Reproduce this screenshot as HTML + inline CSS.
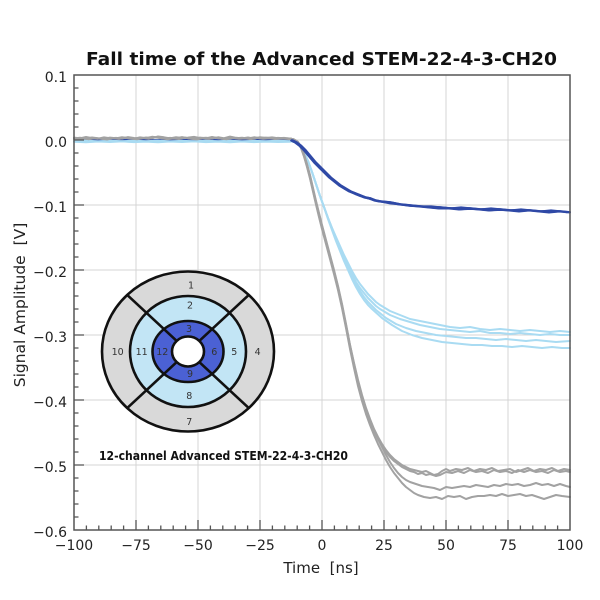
<!DOCTYPE html>
<html><head><meta charset="utf-8"><style>
html,body{margin:0;padding:0;background:#fff;}
svg{display:block;}
text{font-family:"DejaVu Sans","Liberation Sans",sans-serif;}
</style></head><body>
<svg width="600" height="600" viewBox="0 0 600 600" xmlns="http://www.w3.org/2000/svg">
<rect width="600" height="600" fill="#fff"/>
<!-- grid -->
<g stroke="#d4d4d4" stroke-width="1">
<line x1="136" y1="75" x2="136" y2="530"/><line x1="198" y1="75" x2="198" y2="530"/><line x1="260" y1="75" x2="260" y2="530"/><line x1="322" y1="75" x2="322" y2="530"/><line x1="384" y1="75" x2="384" y2="530"/><line x1="446" y1="75" x2="446" y2="530"/><line x1="508" y1="75" x2="508" y2="530"/>
<line x1="74" y1="140" x2="570" y2="140"/><line x1="74" y1="205" x2="570" y2="205"/><line x1="74" y1="270" x2="570" y2="270"/><line x1="74" y1="335" x2="570" y2="335"/><line x1="74" y1="400" x2="570" y2="400"/><line x1="74" y1="465" x2="570" y2="465"/>
</g>
<!-- dark blue flat (hidden under others) -->
<path fill="none" stroke="#2f49a6" stroke-width="1.9" d="M74,139.8 L90,140.1 106,139.6 122,140 138,139.6 154,140.1 170,139.7 186,140 202,139.6 218,140.1 234,139.7 250,140 266,139.6 282,139.9 292,140"/>
<!-- light blue -->
<g fill="none" stroke="#a9dbf2" stroke-width="2" stroke-linejoin="round" stroke-linecap="round">
<path d="M74,141 L86,140.6 98,141.4 110,140.8 122,141.3 134,140.7 146,141.2 158,140.6 170,141.4 182,140.9 194,141.3 206,140.7 218,141.2 230,140.8 242,141.4 254,140.9 266,141.2 278,140.8 290,141.2"/>
<path transform="translate(0,0.8)" d="M74,141 L86,141.4 98,140.7 110,141.2 122,140.6 134,141.3 146,140.8 158,141.4 170,140.7 182,141.2 194,140.6 206,141.3 218,140.8 230,141.4 242,140.7 254,141.3 266,140.8 278,141.2 290,141"/>
<path d="M290,141.2 L296,142 300,145 304,152 308,161 312,172 316,184 320,196 324,207 328,218 332,228 336,237 340,246 344,255 348,263 352,271 356,278 360,284 364,289 368,294 372,298 376,302 380,305 390,311 400,315 410,319 420,321 430,323 440,325 450,327 460,328 470,327 480,329 490,330 500,329 510,330 520,331 530,330 540,331 550,332 560,331 570,332"/>
<path d="M290,141.2 L296,142 300,145 304,152 308,161 312,172 316,184 320,196 324,207 328,218 332,228 336,238 340,248 344,257 348,266 352,274 356,282 360,288 364,293 368,298 372,302 376,306 380,309 390,315 400,319 410,322 420,325 430,327 440,329 450,330 460,331 470,332 480,331 490,333 500,333 510,334 520,333 530,334 540,335 550,334 560,335 570,335"/>
<path d="M290,141.2 L296,142 300,145 304,152 308,161 312,172 316,184 320,196 324,207 328,218 332,229 336,239 340,249 344,259 348,268 352,276 356,284 360,291 364,297 368,302 376,310 386,318 396,324 406,328 416,331 426,333 436,335 446,336 456,337 466,338 476,338 486,339 496,340 506,339 516,340 526,341 536,340 546,341 556,342 570,341"/>
<path d="M290,141.2 L296,142 300,145 304,152 308,161 312,172 316,184 320,196 324,207 328,219 332,230 336,241 340,251 344,261 348,270 352,279 356,287 360,294 364,300 368,305 372,309 382,318 392,325 402,331 412,335 422,338 432,340 442,342 452,343 462,344 472,345 482,345 492,346 502,346 512,347 522,346 532,347 542,348 552,347 562,348 570,348"/>
</g>
<!-- gray -->
<g fill="none" stroke="#a2a2a2" stroke-width="2" stroke-linejoin="round" stroke-linecap="round">
<path d="M74,138.5 L80,137.8 86,138.6 92,137.5 98,138.2 104,138.9 110,137.6 116,138.3 122,137.2 128,138 134,138.7 140,137.4 146,138.1 152,136.8 158,137.5 164,138.6 170,137.9 176,138.4 182,137.1 188,138.2 194,138.8 200,137.6 206,138.3 212,137 218,138.1 224,138.6 230,137.4 236,138.2 242,137.8 248,138.5 254,137.3 260,138.1 266,137.6 272,138.4 278,137.9 284,138.3 290,138.5"/>
<path d="M74,137.6 L80,138.4 86,137 92,138.1 98,138.7 104,137.4 110,138.2 116,137.9 122,138.5 128,137.1 134,138 140,138.6 146,137.5 152,138.2 158,136.5 164,137.3 170,138.4 176,137.2 182,138 188,137.6 194,136.9 200,138.1 206,137.7 212,138.5 218,137.3 224,138.2 230,136.6 236,137.8 242,138.4 248,137.5 254,138.6 260,137.2 266,138 272,137.4 278,138.3 284,137.9 290,138.6"/>
<path transform="translate(3,0.6)" d="M71,138.5 L80,137.8 86,138.6 92,137.5 98,138.2 104,138.9 110,137.6 116,138.3 122,137.2 128,138 134,138.7 140,137.4 146,138.1 152,136.8 158,137.5 164,138.6 170,137.9 176,138.4 182,137.1 188,138.2 194,138.8 200,137.6 206,138.3 212,137 218,138.1 224,138.6 230,137.4 236,138.2 242,137.8 248,138.5 254,137.3 260,138.1 266,137.6 272,138.4 278,137.9 284,138.3 287,138.5"/>
<path d="M290,138.5 L294,139.5 298,142 301,147 304,155 307,165 310,176 313,189 316,202 319,214 322,226 326,241 330,256 334,271 338,287 342,305 346,325 350,345 354,363 358,380 362,395 366,408 370,419 374,429 378,437 382,444 386,450 390,455 394,459 398,462 402,465 406,467 410,469 414,470 418,471 422,472 426,471 430,473 434,475 438,474 442,471 446,469 450,471 456,469 462,470 468,468 474,471 480,469 486,470 492,468 498,471 504,470 510,469 516,472 522,470 528,468 534,471 540,469 546,470 552,468 558,471 564,469 570,470"/>
<path d="M290,138.5 L294,139.5 298,142 301,147.5 304,156 307,166 310,177.5 313,190.5 316,203.5 319,215.5 322,227.5 326,242.5 330,257.5 334,272.5 338,288.5 342,306.5 346,326.5 350,347 354,365 358,382 362,397 366,410 370,421 374,431 378,439 382,446 386,452 390,457 394,461 398,464 402,467 406,469 410,471 414,472 418,474 422,473 426,475 430,474 436,476 440,475 446,472 452,473 458,471 464,473 470,470 476,472 482,471 488,473 494,470 500,472 506,471 512,473 518,470 524,472 530,470 536,472 542,471 548,473 554,470 560,472 566,471 570,472"/>
<path d="M290,138.5 L294,139.5 298,142 301,146.5 304,154 307,164 310,175 313,188 316,201 319,213 322,225 326,240 330,255 334,270 338,286 342,304 346,324 350,345 354,364 358,381 362,396 366,409 370,420 374,430 378,439 382,447 386,455 390,462 394,468 398,473 402,477 406,480 410,482 416,484 422,486 428,487 434,488 440,490 446,487 452,488 458,487 464,486 470,487 476,485 482,486 488,487 494,485 500,486 506,484 512,485 518,484 524,486 530,485 536,483 542,485 548,484 554,486 560,484 566,486 570,487"/>
<path d="M290,138.5 L294,139.5 298,142.5 301,148 304,156.5 307,167 310,178.5 313,191.5 316,204.5 319,217 322,229 326,244 330,259 334,274 338,290 342,308 346,328 350,349 354,368 358,386 362,401 366,414 370,425 374,435 378,444 382,452 386,460 390,467 394,473 398,478 402,483 406,487 410,490 414,493 418,495 424,497 430,498 436,497 442,499 448,496 454,497 460,496 466,499 472,497 478,496 484,496 490,495 496,496 502,494 508,496 514,495 520,494 526,496 532,495 538,497 544,499 550,497 556,495 562,496 570,497"/>
</g>
<!-- dark blue -->
<g fill="none" stroke="#2f49a6" stroke-width="1.8" stroke-linejoin="round" stroke-linecap="round">
<path d="M292,140 L296,142 300,145 305,150 310,156 315,162 320,167 325,172 330,177 335,181 340,185 345,188 350,191 355,193 360,195 365,197 370,198 375,200 380,201 390,202 400,204 410,205 420,206 430,207 440,207 450,208 460,208 470,208 480,209 490,209 500,209 510,210 520,210 530,210 540,211 550,211 560,211 570,212"/>
<path transform="translate(0,1)" d="M292,140 L296,142 300,145 305,150.5 310,156.5 315,162 320,167.5 325,172 330,176.5 335,181 340,184.5 345,188 350,190.5 355,193 360,195 365,196.5 370,198 375,199.5 380,200.5 390,202.5 400,203.5 410,205 420,205.5 430,206.5 440,207.5 450,207 460,208.5 470,208 480,208.5 490,209.5 500,209 510,209.5 520,210 530,209.5 540,210.5 550,211 560,210.5 570,211"/>
<path transform="translate(1,0.3)" d="M292,140 L296,142 300,145 305,150 310,156 315,162 320,167 325,172 330,177 335,181 340,185 345,188 350,191 355,193 360,195 365,197 370,198 375,200 380,201 390,202 400,204 410,205 420,206 430,206 440,207 450,208 460,207 470,208 480,209 490,208 500,209 510,210 520,209 530,210 540,211 550,210 560,211 566,212"/>
<path transform="translate(-1,0.6)" d="M292,140 L296,142 300,145 305,150 310,156 315,162 320,167 325,172 330,177 335,181 340,185 345,188 350,191 355,193 360,195 365,197 370,198 375,200 380,201 390,202 400,204 410,205 420,206 430,207 440,208 450,208 460,209 470,208 480,209 490,210 500,209 510,210 520,211 530,210 540,211 550,212 560,211 571,212"/>
</g>
<!-- spines -->
<rect x="74" y="75" width="496" height="455" fill="none" stroke="#555" stroke-width="1.5"/>
<!-- ticks -->
<g stroke="#555" stroke-width="1.3">
<path d="M136,530v-10M198,530v-10M260,530v-10M322,530v-10M384,530v-10M446,530v-10M508,530v-10"/>
<path d="M86.4,530v-4.5M98.8,530v-4.5M111.2,530v-4.5M123.6,530v-4.5M148.4,530v-4.5M160.8,530v-4.5M173.2,530v-4.5M185.6,530v-4.5M210.4,530v-4.5M222.8,530v-4.5M235.2,530v-4.5M247.6,530v-4.5M272.4,530v-4.5M284.8,530v-4.5M297.2,530v-4.5M309.6,530v-4.5M334.4,530v-4.5M346.8,530v-4.5M359.2,530v-4.5M371.6,530v-4.5M396.4,530v-4.5M408.8,530v-4.5M421.2,530v-4.5M433.6,530v-4.5M458.4,530v-4.5M470.8,530v-4.5M483.2,530v-4.5M495.6,530v-4.5M520.4,530v-4.5M532.8,530v-4.5M545.2,530v-4.5M557.6,530v-4.5"/>
<path d="M74,140h10M74,205h10M74,270h10M74,335h10M74,400h10M74,465h10"/>
<path d="M74,88h4.5M74,101h4.5M74,114h4.5M74,127h4.5M74,153h4.5M74,166h4.5M74,179h4.5M74,192h4.5M74,218h4.5M74,231h4.5M74,244h4.5M74,257h4.5M74,283h4.5M74,296h4.5M74,309h4.5M74,322h4.5M74,348h4.5M74,361h4.5M74,374h4.5M74,387h4.5M74,413h4.5M74,426h4.5M74,439h4.5M74,452h4.5M74,478h4.5M74,491h4.5M74,504h4.5M74,517h4.5"/>
</g>
<!-- tick labels -->
<g font-size="14" fill="#222" text-anchor="end">
<text x="67" y="82">0.1</text><text x="67" y="147">0.0</text><text x="67" y="212">−0.1</text><text x="67" y="277">−0.2</text><text x="67" y="342">−0.3</text><text x="67" y="407">−0.4</text><text x="67" y="472">−0.5</text><text x="67" y="537">−0.6</text>
</g>
<g font-size="14" fill="#222" text-anchor="middle">
<text x="74" y="550">−100</text><text x="136" y="550">−75</text><text x="198" y="550">−50</text><text x="260" y="550">−25</text><text x="322" y="550">0</text><text x="384" y="550">25</text><text x="446" y="550">50</text><text x="508" y="550">75</text><text x="570" y="550">100</text>
</g>
<text x="321" y="573" font-size="15" fill="#222" text-anchor="middle" xml:space="preserve">Time  [ns]</text>
<text transform="translate(25,305) rotate(-90)" font-size="15.5" fill="#222" text-anchor="middle" xml:space="preserve">Signal Amplitude  [V]</text>
<text x="86" y="65" font-size="18" font-weight="bold" fill="#111" textLength="471" lengthAdjust="spacingAndGlyphs">Fall time of the Advanced STEM-22-4-3-CH20</text>
<!-- inset -->
<g stroke="#111" stroke-width="2.6">
<ellipse cx="188" cy="351.5" rx="86" ry="80" fill="#d9d9d9"/>
<ellipse cx="188" cy="351.5" rx="58" ry="55.5" fill="#c2e5f5"/>
<ellipse cx="188" cy="351.5" rx="35.5" ry="30.5" fill="#4b61d4"/>
<line x1="176.7" y1="340.9" x2="127.2" y2="294.9"/>
<line x1="199.3" y1="340.9" x2="248.8" y2="294.9"/>
<line x1="176.7" y1="362.1" x2="127.2" y2="408.1"/>
<line x1="199.3" y1="362.1" x2="248.8" y2="408.1"/>
<ellipse cx="188" cy="351.5" rx="16" ry="15" fill="#fff"/>
</g>
<g font-size="9.5" fill="#333" text-anchor="middle" font-family="Liberation Sans, sans-serif">
<text x="191" y="288.5">1</text><text x="190" y="308.5">2</text><text x="189" y="332">3</text><text x="257.7" y="355">4</text><text x="234.3" y="355">5</text><text x="214.3" y="355">6</text><text x="189.3" y="425">7</text><text x="189.3" y="399">8</text><text x="190" y="377">9</text><text x="117.7" y="355">10</text><text x="141.7" y="355">11</text><text x="162.3" y="355">12</text>
</g>
<text x="99" y="460" font-size="12" font-weight="bold" fill="#111" textLength="249" lengthAdjust="spacingAndGlyphs">12-channel Advanced STEM-22-4-3-CH20</text>
</svg>
</body></html>
